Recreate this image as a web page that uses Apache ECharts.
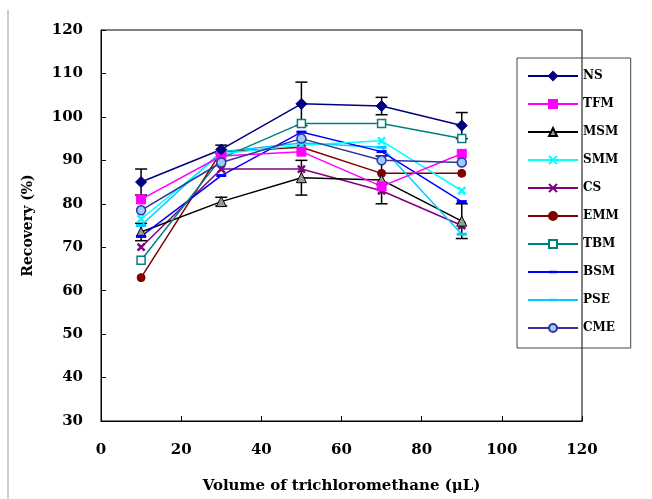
<!DOCTYPE html>
<html>
<head>
<meta charset="utf-8">
<script src="https://cdn.jsdelivr.net/npm/echarts@6/dist/echarts.min.js"></script>
<style>
  html, body { margin: 0; padding: 0; background: #fff; }
  #main { width: 652px; height: 499px; }
</style>
</head>
<body>
<div id="main"></div>
<script>
// volumes of trichloromethane (uL)
const volumes = [10, 30, 50, 70, 90]

// recovery (%) per sample
const NS = [85, 92.5, 103, 102.5, 98]
const TFM = [81, 91, 92, 84, 91.5]
const MSM = [73.5, 80.5, 86, 85.5, 76]
const SMM = [76.5, 91.5, 93.5, 94.5, 83]
const CS = [70, 88, 88, 83, 75]
const EMM = [63, 92, 93, 87, 87]
const TBM = [67, 90.5, 98.5, 98.5, 95]
const BSM = [72.5, 86.5, 96.5, 92, 80.5]
const PSE = [75, 92, 94, 93, 73]
const CME = [78.5, 89.5, 95, 90, 89.5]

// error bars (+/-) that stand out in the figure
const NSerr = [3, 1, 5, 2, 3]
const MSMerr = [2, 1, 4, 5.5, 4]

const xTicks = [0, 20, 40, 60, 80, 100, 120]
const yTicks = [30, 40, 50, 60, 70, 80, 90, 100, 110, 120]

const font = 'DejaVu Serif'
const xMark = 'path://M0,0L10,10M10,0L0,10'
// short bar inside a square box (empty corner points keep the box square)
const dash = 'path://M0,0L0,0M0,3.5L10,3.5L10,6.5L0,6.5ZM10,10L10,10'

function pts(vals) {
  return volumes.map((v, i) => [v, vals[i]])
}

function line(name, vals, color, symbol, size, extra) {
  return Object.assign({
    name: name,
    type: 'line',
    data: pts(vals),
    symbol: symbol,
    symbolSize: size,
    lineStyle: { color: color, width: 1.5 },
    itemStyle: { color: color, borderColor: color, borderWidth: 1 },
    z: 3
  }, extra || {})
}

// black error bars with caps
function errData(vals, errs) {
  return volumes.map((v, i) => [v, vals[i] - errs[i], vals[i] + errs[i]])
}
function errSeries(vals, errs) {
  return {
    type: 'custom',
    silent: true,
    z: 2,
    data: errData(vals, errs),
    renderItem: function (params, api) {
      const lo = api.coord([api.value(0), api.value(1)])
      const hi = api.coord([api.value(0), api.value(2)])
      const w = 6
      const st = { stroke: '#000', lineWidth: 1.5 }
      return {
        type: 'group',
        children: [
          { type: 'line', shape: { x1: lo[0], y1: lo[1], x2: hi[0], y2: hi[1] }, style: st },
          { type: 'line', shape: { x1: lo[0] - w, y1: lo[1], x2: lo[0] + w, y2: lo[1] }, style: st },
          { type: 'line', shape: { x1: hi[0] - w, y1: hi[1], x2: hi[0] + w, y2: hi[1] }, style: st }
        ]
      }
    }
  }
}

const myChart = echarts.init(document.getElementById('main'))
myChart.setOption({
  animation: false,
  backgroundColor: '#fff',
  graphic: [
    { type: 'line', shape: { x1: 8, y1: 10, x2: 8, y2: 499 }, style: { stroke: '#cfcfcf', lineWidth: 2 } }
  ],
  grid: {
    left: 101, right: 70, top: 30, bottom: 77,
    show: true, borderColor: '#000', borderWidth: 1
  },
  legend: {
    orient: 'vertical',
    left: 517, top: 58,
    padding: [12, 12, 14, 10],
    borderColor: '#444', borderWidth: 1,
    itemWidth: 50, itemHeight: 10, itemGap: 16,
    textStyle: { fontFamily: font, fontWeight: 'bold', fontSize: 12, color: '#000' },
    data: ['NS', 'TFM', 'MSM', 'SMM', 'CS', 'EMM', 'TBM', 'BSM', 'PSE', 'CME']
  },
  xAxis: {
    type: 'value', min: 0, max: 120, interval: 20,
    name: 'Volume of trichloromethane (μL)',
    nameLocation: 'middle', nameGap: 58,
    nameTextStyle: { fontFamily: font, fontWeight: 'bold', fontSize: 15, color: '#000' },
    axisLine: { lineStyle: { color: '#000', width: 1 } },
    axisTick: { inside: true, length: 5, lineStyle: { color: '#000' } },
    axisLabel: { margin: 22, fontFamily: font, fontWeight: 'bold', fontSize: 15, color: '#000',
      formatter: v => xTicks.includes(v) ? String(v) : '' },
    splitLine: { show: false }
  },
  yAxis: {
    type: 'value', min: 30, max: 120, interval: 10,
    name: 'Recovery (%)',
    nameLocation: 'middle', nameGap: 66,
    nameTextStyle: { fontFamily: font, fontWeight: 'bold', fontSize: 14, color: '#000' },
    axisLine: { lineStyle: { color: '#000', width: 1 } },
    axisTick: { inside: true, length: 5, lineStyle: { color: '#000' } },
    axisLabel: { margin: 18, fontFamily: font, fontWeight: 'bold', fontSize: 15, color: '#000',
      formatter: v => yTicks.includes(v) ? String(v) : '' },
    splitLine: { show: false }
  },
  series: [
    errSeries(NS, NSerr),
    errSeries(MSM, MSMerr),
    line('EMM', EMM, '#800000', 'circle', 8),
    line('CS', CS, '#800080', xMark, 7, { itemStyle: { color: '#800080', borderColor: '#800080', borderWidth: 2.5 } }),
    line('MSM', MSM, '#000000', 'triangle', 10, { itemStyle: { color: '#999', borderColor: '#000', borderWidth: 1 } }),
    line('PSE', PSE, '#00CCFF', dash, 10, { itemStyle: { color: '#00CCFF', borderWidth: 0 } }),
    line('BSM', BSM, '#0000FF', dash, 10, { itemStyle: { color: '#0000FF', borderWidth: 0 } }),
    line('TBM', TBM, '#008080', 'rect', 8, { itemStyle: { color: '#fff', borderColor: '#008080', borderWidth: 1.5 } }),
    line('SMM', SMM, '#00FFFF', xMark, 7, { itemStyle: { color: '#00FFFF', borderColor: '#00FFFF', borderWidth: 2.5 } }),
    line('TFM', TFM, '#FF00FF', 'rect', 9),
    line('CME', CME, '#333399', 'circle', 9, { itemStyle: { color: '#99CCFF', borderColor: '#333399', borderWidth: 1.5 } }),
    line('NS', NS, '#000080', 'diamond', 11)
  ]
})
</script>
</body>
</html>
